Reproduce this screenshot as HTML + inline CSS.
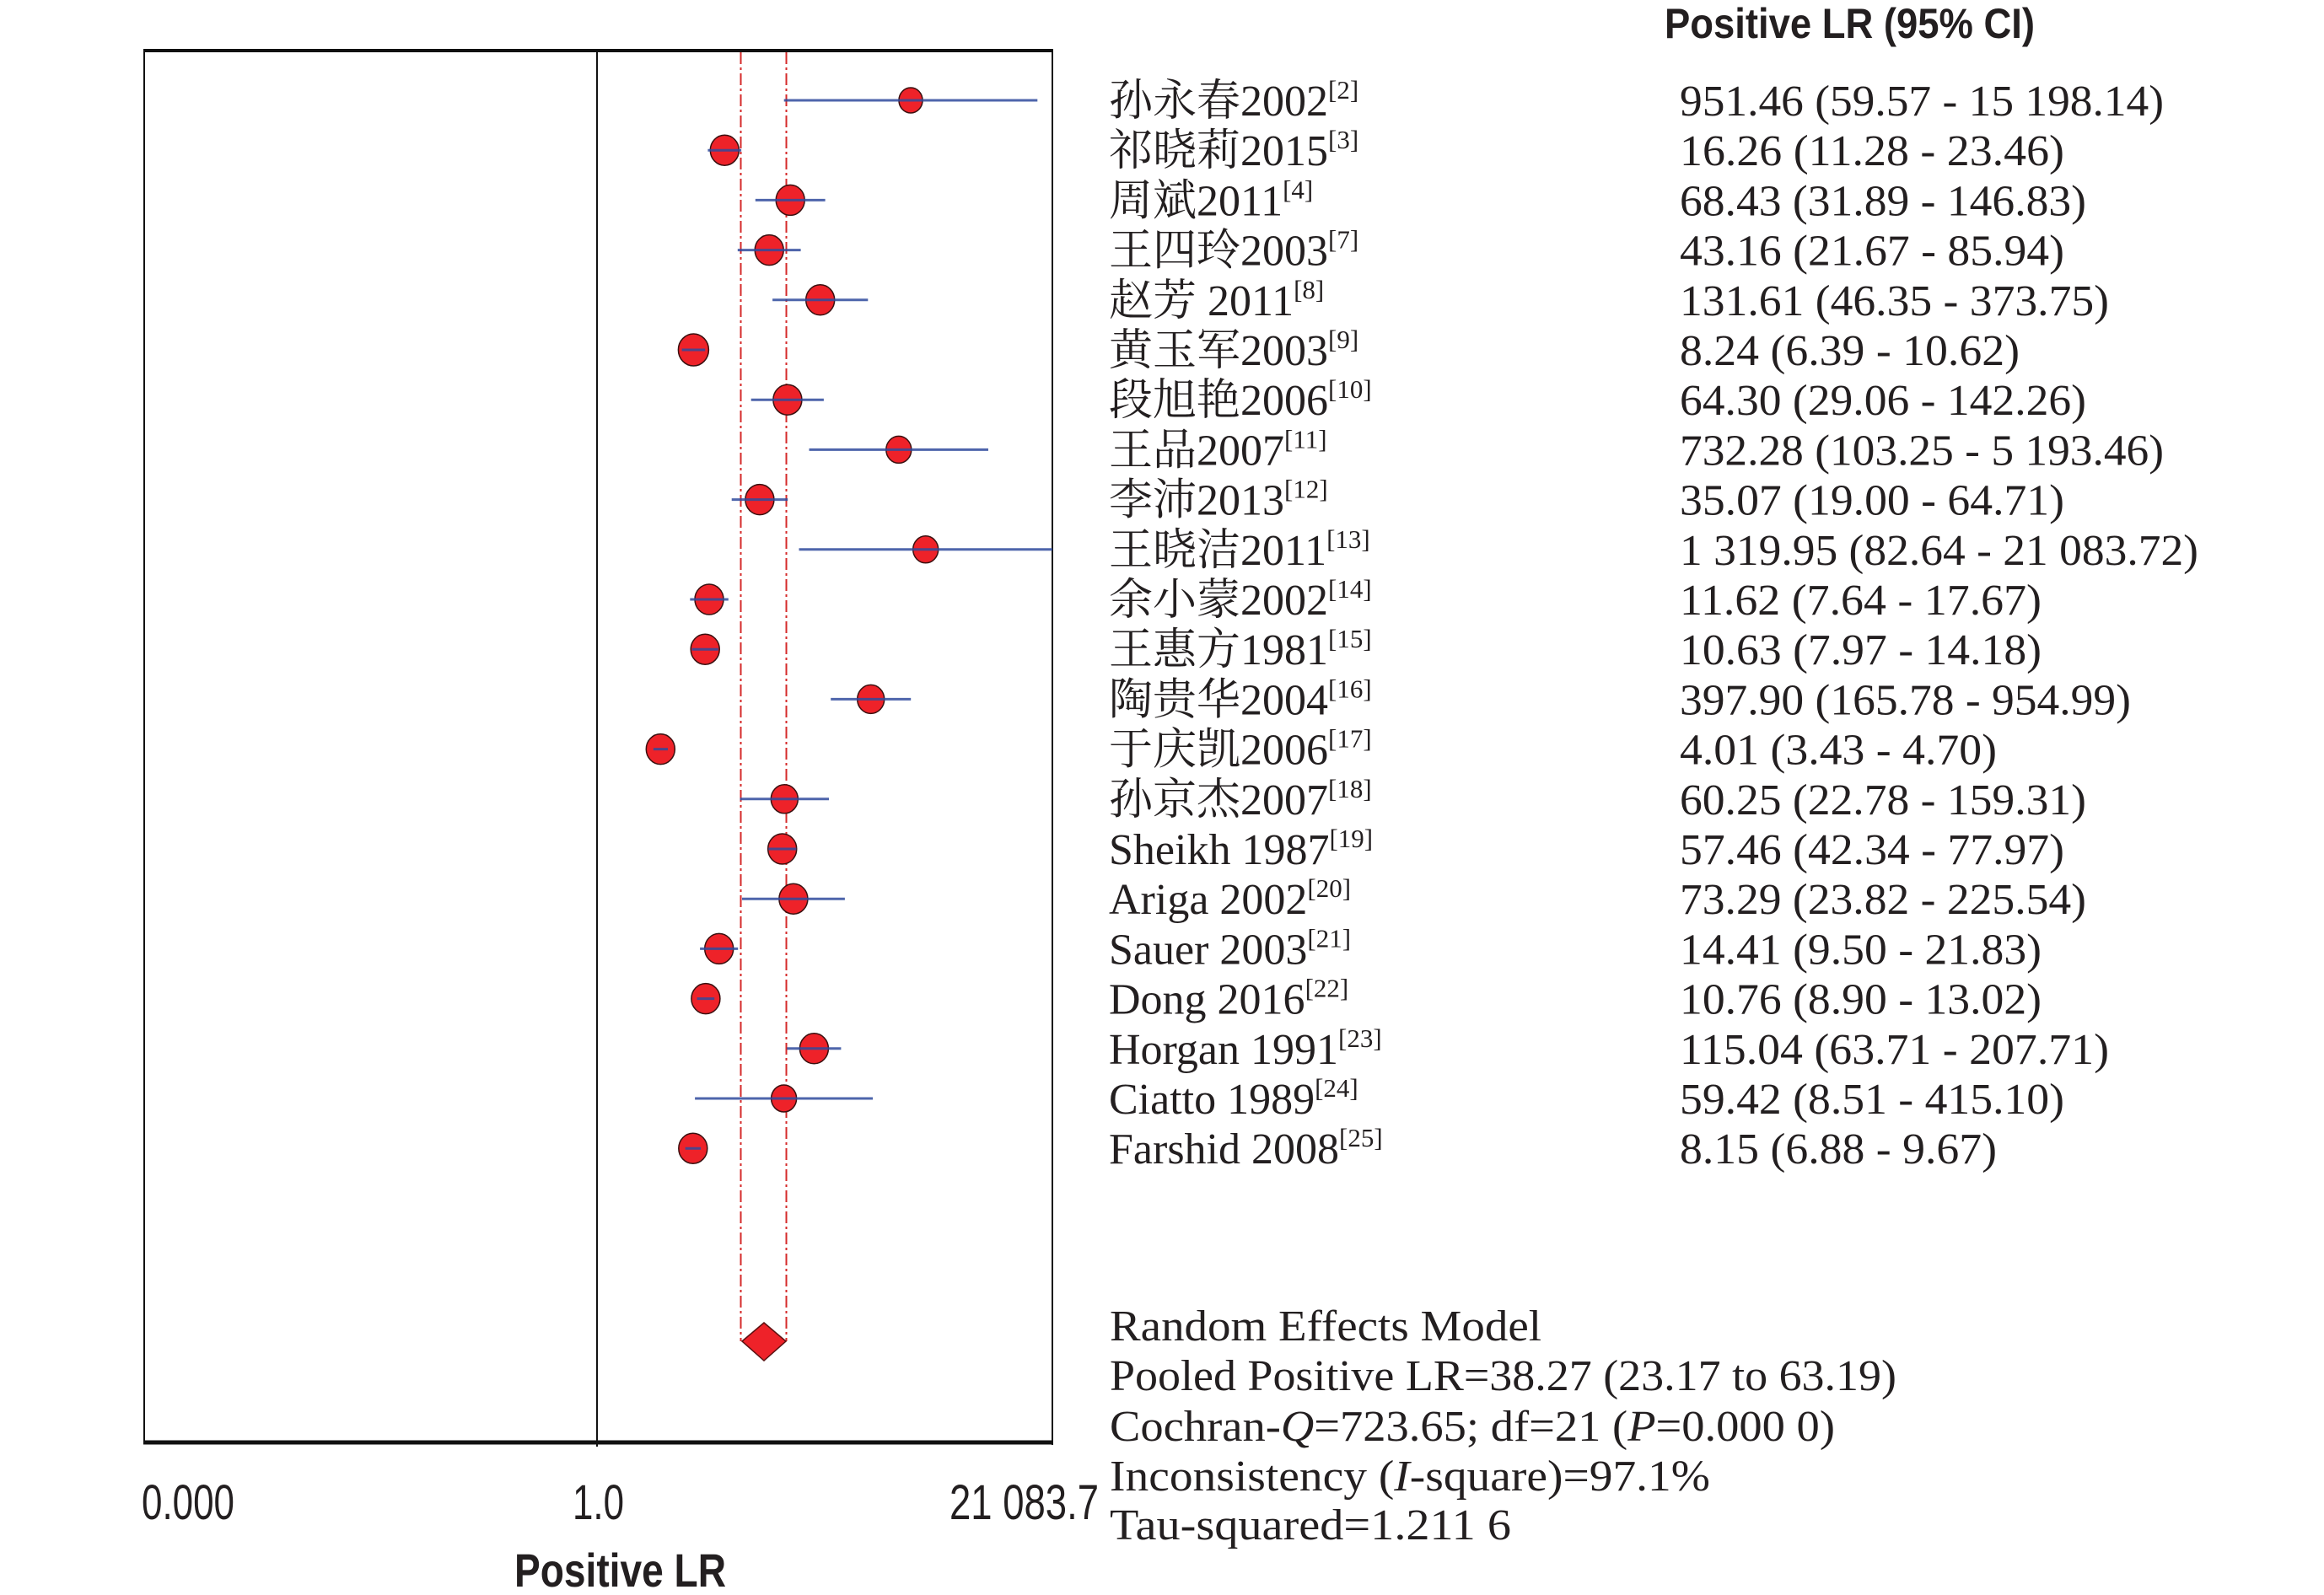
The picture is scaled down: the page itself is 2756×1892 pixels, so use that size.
<!DOCTYPE html>
<html><head><meta charset="utf-8"><style>
html,body{margin:0;padding:0;background:#fff;}
svg{display:block;}
.n{font-family:"Liberation Serif","Noto Serif CJK SC",serif;font-size:52px;fill:#231f20;}
.s{font-size:31px;}
.c{font-family:"Liberation Serif",serif;font-size:52px;fill:#231f20;}
.a{font-family:"Liberation Sans",sans-serif;font-size:58px;fill:#231f20;}
.b{font-family:"Liberation Sans",sans-serif;font-weight:bold;fill:#231f20;}
.m{fill:#ee2229;stroke:#3a1010;stroke-width:1.5;}
.l{stroke:#2f4a9c;stroke-opacity:0.85;stroke-width:3;}
</style></head><body>
<svg width="2756" height="1892" viewBox="0 0 2756 1892" xmlns="http://www.w3.org/2000/svg">
<rect width="2756" height="1892" fill="#fff"/>
<line x1="170" y1="60" x2="1249" y2="60" stroke="#111" stroke-width="4"/>
<line x1="170" y1="1711" x2="1249" y2="1711" stroke="#111" stroke-width="5"/>
<line x1="171" y1="60" x2="171" y2="1711" stroke="#111" stroke-width="2"/>
<line x1="1248" y1="60" x2="1248" y2="1714" stroke="#111" stroke-width="2"/>
<line x1="708" y1="60" x2="708" y2="1716" stroke="#111" stroke-width="2"/>
<line x1="878.5" y1="62" x2="878.5" y2="1591" stroke="#d42a2a" stroke-width="2" stroke-dasharray="14 4 3 4"/>
<line x1="932.5" y1="62" x2="932.5" y2="1591" stroke="#d42a2a" stroke-width="2" stroke-dasharray="14 4 3 4"/>
<polygon points="880,1591 906,1569 932,1591 906,1614" fill="#ee2229" stroke="#5a1010" stroke-width="1.5"/>
<g>
<ellipse class="m" cx="1080" cy="119" rx="14" ry="15"/><line class="l" x1="929.7" y1="119" x2="1230.3" y2="119"/>
<ellipse class="m" cx="859.3" cy="178.2" rx="17" ry="18"/><line class="l" x1="839.4" y1="178.2" x2="879.1" y2="178.2"/>
<ellipse class="m" cx="937.2" cy="237.4" rx="17" ry="18"/><line class="l" x1="895.8" y1="237.4" x2="978.6" y2="237.4"/>
<ellipse class="m" cx="912.2" cy="296.6" rx="17" ry="18"/><line class="l" x1="874.8" y1="296.6" x2="949.6" y2="296.6"/>
<ellipse class="m" cx="972.7" cy="355.8" rx="17" ry="18"/><line class="l" x1="916.1" y1="355.8" x2="1029.3" y2="355.8"/>
<ellipse class="m" cx="822.4" cy="415" rx="18" ry="19"/><line class="l" x1="808.6" y1="415" x2="836.2" y2="415"/>
<ellipse class="m" cx="933.9" cy="474.2" rx="17" ry="18"/><line class="l" x1="890.7" y1="474.2" x2="976.9" y2="474.2"/>
<ellipse class="m" cx="1065.8" cy="533.4" rx="15" ry="16"/><line class="l" x1="959.5" y1="533.4" x2="1172" y2="533.4"/>
<ellipse class="m" cx="900.9" cy="592.6" rx="17" ry="18"/><line class="l" x1="867.7" y1="592.6" x2="934.2" y2="592.6"/>
<ellipse class="m" cx="1097.7" cy="651.8" rx="15" ry="16"/><line class="l" x1="947.5" y1="651.8" x2="1248" y2="651.8"/>
<ellipse class="m" cx="841" cy="711" rx="17" ry="18"/><line class="l" x1="818.3" y1="711" x2="863.8" y2="711"/>
<ellipse class="m" cx="836.2" cy="770.2" rx="17" ry="18"/><line class="l" x1="820.6" y1="770.2" x2="851.8" y2="770.2"/>
<ellipse class="m" cx="1032.7" cy="829.4" rx="16" ry="17"/><line class="l" x1="985.2" y1="829.4" x2="1080.2" y2="829.4"/>
<ellipse class="m" cx="783.3" cy="888.6" rx="17" ry="18"/><line class="l" x1="774.9" y1="888.6" x2="792" y2="888.6"/>
<ellipse class="m" cx="930.3" cy="947.8" rx="16" ry="17"/><line class="l" x1="877.6" y1="947.8" x2="983" y2="947.8"/>
<ellipse class="m" cx="927.7" cy="1007" rx="17" ry="18"/><line class="l" x1="911.2" y1="1007" x2="944.3" y2="1007"/>
<ellipse class="m" cx="940.9" cy="1066.2" rx="17" ry="18"/><line class="l" x1="880" y1="1066.2" x2="1001.9" y2="1066.2"/>
<ellipse class="m" cx="852.7" cy="1125.4" rx="17" ry="18"/><line class="l" x1="830.1" y1="1125.4" x2="875.2" y2="1125.4"/>
<ellipse class="m" cx="836.9" cy="1184.6" rx="17" ry="18"/><line class="l" x1="826.6" y1="1184.6" x2="847.2" y2="1184.6"/>
<ellipse class="m" cx="965.4" cy="1243.8" rx="17" ry="18"/><line class="l" x1="933.3" y1="1243.8" x2="997.4" y2="1243.8"/>
<ellipse class="m" cx="929.6" cy="1303" rx="15" ry="16"/><line class="l" x1="824.1" y1="1303" x2="1035" y2="1303"/>
<ellipse class="m" cx="821.8" cy="1362.2" rx="17" ry="18"/><line class="l" x1="812.6" y1="1362.2" x2="831.1" y2="1362.2"/>
</g>
<text class="b" x="1974" y="45" font-size="50" textLength="439" lengthAdjust="spacingAndGlyphs">Positive LR (95% CI)</text>
<g class="n">
<text x="1315" y="137">孙永春2002<tspan class="s" dy="-20">[2]</tspan></text>
<text x="1315" y="196.2">祁晓莉2015<tspan class="s" dy="-20">[3]</tspan></text>
<text x="1315" y="255.4">周斌2011<tspan class="s" dy="-20">[4]</tspan></text>
<text x="1315" y="314.6">王四玲2003<tspan class="s" dy="-20">[7]</tspan></text>
<text x="1315" y="373.8">赵芳 2011<tspan class="s" dy="-20">[8]</tspan></text>
<text x="1315" y="433">黄玉军2003<tspan class="s" dy="-20">[9]</tspan></text>
<text x="1315" y="492.2">段旭艳2006<tspan class="s" dy="-20">[10]</tspan></text>
<text x="1315" y="551.4">王品2007<tspan class="s" dy="-20">[11]</tspan></text>
<text x="1315" y="610.6">李沛2013<tspan class="s" dy="-20">[12]</tspan></text>
<text x="1315" y="669.8">王晓洁2011<tspan class="s" dy="-20">[13]</tspan></text>
<text x="1315" y="729">余小蒙2002<tspan class="s" dy="-20">[14]</tspan></text>
<text x="1315" y="788.2">王惠方1981<tspan class="s" dy="-20">[15]</tspan></text>
<text x="1315" y="847.4">陶贵华2004<tspan class="s" dy="-20">[16]</tspan></text>
<text x="1315" y="906.6">于庆凯2006<tspan class="s" dy="-20">[17]</tspan></text>
<text x="1315" y="965.8">孙京杰2007<tspan class="s" dy="-20">[18]</tspan></text>
<text x="1315" y="1025">Sheikh 1987<tspan class="s" dy="-20">[19]</tspan></text>
<text x="1315" y="1084.2">Ariga 2002<tspan class="s" dy="-20">[20]</tspan></text>
<text x="1315" y="1143.4">Sauer 2003<tspan class="s" dy="-20">[21]</tspan></text>
<text x="1315" y="1202.6">Dong 2016<tspan class="s" dy="-20">[22]</tspan></text>
<text x="1315" y="1261.8">Horgan 1991<tspan class="s" dy="-20">[23]</tspan></text>
<text x="1315" y="1321">Ciatto 1989<tspan class="s" dy="-20">[24]</tspan></text>
<text x="1315" y="1380.2">Farshid 2008<tspan class="s" dy="-20">[25]</tspan></text>
</g>
<g class="c">
<text x="1992" y="137" textLength="574" lengthAdjust="spacingAndGlyphs">951.46 (59.57 - 15 198.14)</text>
<text x="1992" y="196.2" textLength="456" lengthAdjust="spacingAndGlyphs">16.26 (11.28 - 23.46)</text>
<text x="1992" y="255.4" textLength="482" lengthAdjust="spacingAndGlyphs">68.43 (31.89 - 146.83)</text>
<text x="1992" y="314.6" textLength="456" lengthAdjust="spacingAndGlyphs">43.16 (21.67 - 85.94)</text>
<text x="1992" y="373.8" textLength="509" lengthAdjust="spacingAndGlyphs">131.61 (46.35 - 373.75)</text>
<text x="1992" y="433" textLength="403" lengthAdjust="spacingAndGlyphs">8.24 (6.39 - 10.62)</text>
<text x="1992" y="492.2" textLength="482" lengthAdjust="spacingAndGlyphs">64.30 (29.06 - 142.26)</text>
<text x="1992" y="551.4" textLength="574" lengthAdjust="spacingAndGlyphs">732.28 (103.25 - 5 193.46)</text>
<text x="1992" y="610.6" textLength="456" lengthAdjust="spacingAndGlyphs">35.07 (19.00 - 64.71)</text>
<text x="1992" y="669.8" textLength="615" lengthAdjust="spacingAndGlyphs">1 319.95 (82.64 - 21 083.72)</text>
<text x="1992" y="729" textLength="429" lengthAdjust="spacingAndGlyphs">11.62 (7.64 - 17.67)</text>
<text x="1992" y="788.2" textLength="429" lengthAdjust="spacingAndGlyphs">10.63 (7.97 - 14.18)</text>
<text x="1992" y="847.4" textLength="535" lengthAdjust="spacingAndGlyphs">397.90 (165.78 - 954.99)</text>
<text x="1992" y="906.6" textLength="376" lengthAdjust="spacingAndGlyphs">4.01 (3.43 - 4.70)</text>
<text x="1992" y="965.8" textLength="482" lengthAdjust="spacingAndGlyphs">60.25 (22.78 - 159.31)</text>
<text x="1992" y="1025" textLength="456" lengthAdjust="spacingAndGlyphs">57.46 (42.34 - 77.97)</text>
<text x="1992" y="1084.2" textLength="482" lengthAdjust="spacingAndGlyphs">73.29 (23.82 - 225.54)</text>
<text x="1992" y="1143.4" textLength="429" lengthAdjust="spacingAndGlyphs">14.41 (9.50 - 21.83)</text>
<text x="1992" y="1202.6" textLength="429" lengthAdjust="spacingAndGlyphs">10.76 (8.90 - 13.02)</text>
<text x="1992" y="1261.8" textLength="509" lengthAdjust="spacingAndGlyphs">115.04 (63.71 - 207.71)</text>
<text x="1992" y="1321" textLength="456" lengthAdjust="spacingAndGlyphs">59.42 (8.51 - 415.10)</text>
<text x="1992" y="1380.2" textLength="376" lengthAdjust="spacingAndGlyphs">8.15 (6.88 - 9.67)</text>
</g>
<g class="c">
<text x="1316" y="1590" textLength="512" lengthAdjust="spacingAndGlyphs">Random Effects Model</text>
<text x="1316" y="1649" textLength="933" lengthAdjust="spacingAndGlyphs">Pooled Positive LR=38.27 (23.17 to 63.19)</text>
<text x="1316" y="1709" textLength="860" lengthAdjust="spacingAndGlyphs">Cochran-<tspan font-style="italic">Q</tspan>=723.65; df=21 (<tspan font-style="italic">P</tspan>=0.000 0)</text>
<text x="1316" y="1768" textLength="712" lengthAdjust="spacingAndGlyphs">Inconsistency (<tspan font-style="italic">I</tspan>-square)=97.1%</text>
<text x="1316" y="1826" textLength="476" lengthAdjust="spacingAndGlyphs">Tau-squared=1.211 6</text>
</g>
<text class="a" x="168" y="1802" textLength="110" lengthAdjust="spacingAndGlyphs">0.000</text>
<text class="a" x="679" y="1802" textLength="61" lengthAdjust="spacingAndGlyphs">1.0</text>
<text class="a" x="1126" y="1802" textLength="177" lengthAdjust="spacingAndGlyphs">21 083.7</text>
<text class="b" x="610" y="1882" font-size="56" textLength="251" lengthAdjust="spacingAndGlyphs">Positive LR</text>
</svg>
</body></html>
